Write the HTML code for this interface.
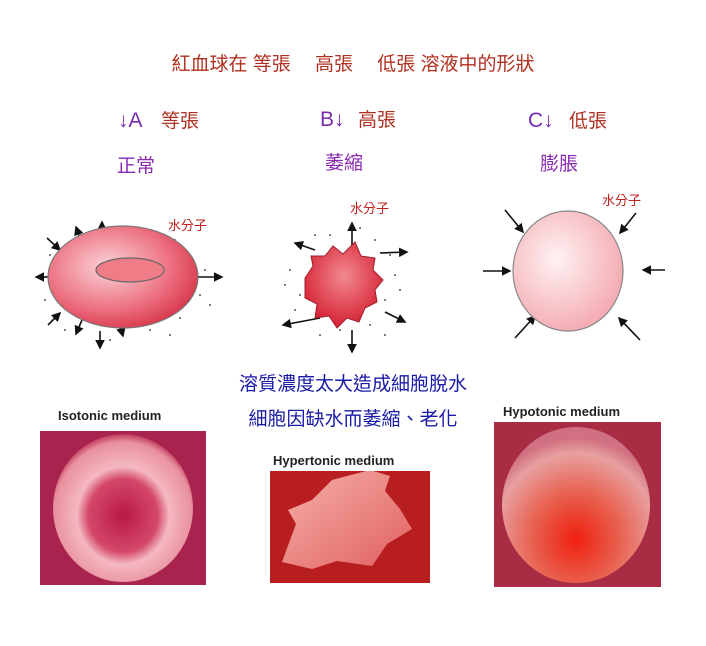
<!DOCTYPE html>
<html><head><meta charset="utf-8"><style>
body{margin:0;background:#fff;}
svg text{font-family:"Liberation Sans","Noto Sans CJK TC",sans-serif;}
</style></head><body>
<svg width="706" height="641" viewBox="0 0 706 641" xmlns="http://www.w3.org/2000/svg">
<defs>
<marker id="ah" markerWidth="6" markerHeight="6" refX="5" refY="3" orient="auto"><path d="M0,0 L6,3 L0,6z" fill="#111"/></marker>
<radialGradient id="g1" cx="0.4" cy="0.4" r="0.7"><stop offset="0" stop-color="#fbd4d8"/><stop offset="0.6" stop-color="#ec7080"/><stop offset="1" stop-color="#d42a40"/></radialGradient>
<radialGradient id="g2" cx="0.5" cy="0.4" r="0.6"><stop offset="0" stop-color="#f28890"/><stop offset="1" stop-color="#d42030"/></radialGradient>
<radialGradient id="g3" cx="0.4" cy="0.4" r="0.7"><stop offset="0" stop-color="#fff2f3"/><stop offset="1" stop-color="#f2a3aa"/></radialGradient>
<radialGradient id="p1" cx="0.5" cy="0.55" r="0.55"><stop offset="0" stop-color="#b81845"/><stop offset="0.45" stop-color="#d4486a"/><stop offset="0.6" stop-color="#f4b8c0"/><stop offset="0.9" stop-color="#e9909e"/><stop offset="1" stop-color="#c03a60"/></radialGradient>
<radialGradient id="p3" cx="0.5" cy="0.72" r="0.65"><stop offset="0" stop-color="#f02010"/><stop offset="0.45" stop-color="#e8604e"/><stop offset="0.85" stop-color="#e8a0a0"/><stop offset="1" stop-color="#d07080"/></radialGradient>
<linearGradient id="p2" x1="0" y1="0" x2="1" y2="1"><stop offset="0" stop-color="#f6b0a8"/><stop offset="1" stop-color="#e06060"/></linearGradient>
<clipPath id="c1"><rect x="40" y="431" width="166" height="154"/></clipPath>
<clipPath id="c2"><rect x="270" y="471" width="160" height="112"/></clipPath>
<clipPath id="c3"><rect x="494" y="422" width="167" height="165"/></clipPath>
</defs>
<text x="353" y="70" font-size="19" fill="#b03020" text-anchor="middle">紅血球在 等張　 高張　 低張  溶液中的形狀</text>
<text x="118" y="127" font-size="21" fill="#7a2ab0">↓A</text><text x="161" y="127" font-size="19" fill="#b03020">等張</text>
<text x="320" y="126" font-size="21" fill="#7a2ab0">B↓</text><text x="358" y="126" font-size="19" fill="#b03020">高張</text>
<text x="528" y="127" font-size="21" fill="#7a2ab0">C↓</text><text x="569" y="127" font-size="19" fill="#b03020">低張</text>
<text x="117" y="172" font-size="19" fill="#8a2ab0">正常</text>
<text x="325" y="169" font-size="19" fill="#8a2ab0">萎縮</text>
<text x="540" y="170" font-size="19" fill="#8a2ab0">膨脹</text>
<g fill="#555">
<circle cx="60" cy="265" r="1"/><circle cx="55" cy="290" r="1"/><circle cx="70" cy="245" r="1"/><circle cx="190" cy="260" r="1"/><circle cx="200" cy="295" r="1"/><circle cx="180" cy="318" r="1"/><circle cx="90" cy="322" r="1"/><circle cx="150" cy="330" r="1"/><circle cx="130" cy="245" r="1"/><circle cx="160" cy="250" r="1"/>
<circle cx="50" cy="255" r="1"/><circle cx="45" cy="300" r="1"/><circle cx="205" cy="270" r="1"/><circle cx="210" cy="305" r="1"/><circle cx="65" cy="330" r="1"/><circle cx="110" cy="340" r="1"/><circle cx="170" cy="335" r="1"/><circle cx="90" cy="238" r="1"/><circle cx="175" cy="240" r="1"/>
<circle cx="290" cy="270" r="1"/><circle cx="300" cy="295" r="1"/><circle cx="395" cy="275" r="1"/><circle cx="385" cy="300" r="1"/><circle cx="330" cy="235" r="1"/><circle cx="375" cy="240" r="1"/><circle cx="340" cy="330" r="1"/><circle cx="370" cy="325" r="1"/>
<circle cx="285" cy="285" r="1"/><circle cx="295" cy="310" r="1"/><circle cx="400" cy="290" r="1"/><circle cx="315" cy="235" r="1"/><circle cx="390" cy="255" r="1"/><circle cx="320" cy="335" r="1"/><circle cx="385" cy="335" r="1"/><circle cx="360" cy="228" r="1"/>
</g>
<g stroke="#111" stroke-width="1.6" marker-end="url(#ah)">
<line x1="48" y1="277" x2="36" y2="277"/><line x1="198" y1="277" x2="222" y2="277"/>
<line x1="47" y1="238" x2="60" y2="250"/><line x1="145" y1="237" x2="136" y2="246"/>
<line x1="80" y1="238" x2="76" y2="227"/><line x1="102" y1="235" x2="102" y2="222"/><line x1="118" y1="240" x2="121" y2="227"/>
<line x1="48" y1="325" x2="60" y2="313"/><line x1="82" y1="320" x2="76" y2="334"/><line x1="100" y1="331" x2="100" y2="348"/><line x1="118" y1="318" x2="123" y2="336"/><line x1="152" y1="320" x2="143" y2="311"/>
<line x1="352" y1="260" x2="352" y2="223"/><line x1="380" y1="253" x2="407" y2="252"/><line x1="320" y1="318" x2="283" y2="325"/><line x1="352" y1="330" x2="352" y2="352"/><line x1="385" y1="312" x2="405" y2="322"/>
<line x1="315" y1="250" x2="295" y2="243"/>
<line x1="505" y1="210" x2="523" y2="232"/><line x1="636" y1="213" x2="620" y2="233"/><line x1="483" y1="271" x2="510" y2="271"/><line x1="665" y1="270" x2="643" y2="270"/><line x1="515" y1="338" x2="535" y2="316"/><line x1="640" y1="340" x2="619" y2="318"/>
</g>
<ellipse cx="123" cy="277" rx="75" ry="51" fill="url(#g1)" stroke="#777" stroke-width="1.2"/>
<ellipse cx="130" cy="270" rx="34" ry="12" fill="#f07c87" stroke="#666" stroke-width="1.2"/>
<path d="M305,278 l8,-12 l-2,-10 l14,0 l8,-10 l10,8 l12,-12 l6,14 l14,2 l-2,12 l10,10 l-8,10 l2,12 l-12,6 l-6,14 l-12,-4 l-10,10 l-8,-12 l-14,2 l2,-14 l-12,-6 z" fill="url(#g2)" stroke="#a02030" stroke-width="1"/>
<ellipse cx="568" cy="271" rx="55" ry="60" fill="url(#g3)" stroke="#888" stroke-width="1.2"/>
<text x="168" y="230" font-size="13" fill="#c02020">水分子</text>
<text x="350" y="213" font-size="13" fill="#c02020">水分子</text>
<text x="602" y="205" font-size="13" fill="#c02020">水分子</text>
<text x="353" y="390" font-size="19" fill="#1a1aa8" text-anchor="middle">溶質濃度太大造成細胞脫水</text>
<text x="353" y="425" font-size="19" fill="#1a1aa8" text-anchor="middle">細胞因缺水而萎縮、老化</text>
<text x="58" y="420" font-size="13" font-weight="bold" fill="#222">Isotonic medium</text>
<text x="273" y="465" font-size="13" font-weight="bold" fill="#222">Hypertonic medium</text>
<text x="503" y="416" font-size="13" font-weight="bold" fill="#222">Hypotonic medium</text>
<rect x="40" y="431" width="166" height="154" fill="#a8244e"/>
<ellipse cx="123" cy="508" rx="70" ry="74" fill="url(#p1)" clip-path="url(#c1)"/>
<rect x="270" y="471" width="160" height="112" fill="#b81e20"/>
<path d="M282,562 l14,-38 l-8,-14 l24,-10 l20,-20 l38,-10 l20,6 l-5,15 l15,18 l12,20 l-25,15 l-15,22 l-35,-5 l-25,8 z" fill="url(#p2)" clip-path="url(#c2)"/>
<rect x="494" y="422" width="167" height="165" fill="#a82c44"/>
<ellipse cx="576" cy="505" rx="74" ry="78" fill="url(#p3)" clip-path="url(#c3)"/>
</svg>
</body></html>
